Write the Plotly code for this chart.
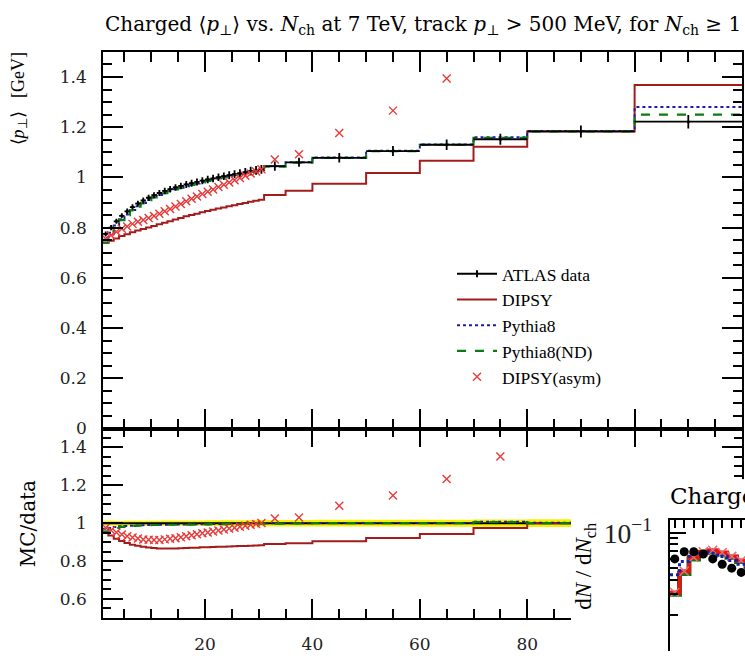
import plotly.graph_objects as go

# ---------------- data: <pT> vs Nch ----------------
edges = [1, 2, 3, 4, 5, 6, 7, 8, 9, 10, 11, 12, 13, 14, 15, 16, 17, 18, 19, 20, 21,
         22, 23, 24, 25, 26, 27, 28, 29, 30, 31, 35, 40, 50, 60, 70, 80, 100, 120]
atlas = [0.775, 0.800, 0.825, 0.847, 0.865, 0.882, 0.896, 0.908, 0.919, 0.929,
         0.938, 0.946, 0.953, 0.960, 0.966, 0.972, 0.977, 0.982, 0.987, 0.992,
         0.996, 1.001, 1.005, 1.009, 1.013, 1.017, 1.021, 1.025, 1.028, 1.032,
         1.045, 1.060, 1.078, 1.105, 1.130, 1.152, 1.183, 1.222]
atlas_err = [0.010, 0.010, 0.010, 0.010, 0.011, 0.011, 0.011, 0.012, 0.012, 0.012,
             0.012, 0.013, 0.013, 0.013, 0.013, 0.014, 0.014, 0.014, 0.014, 0.015,
             0.015, 0.015, 0.015, 0.016, 0.016, 0.016, 0.016, 0.017, 0.017, 0.017,
             0.018, 0.018, 0.019, 0.020, 0.021, 0.022, 0.024, 0.027]
dipsy = [0.740, 0.748, 0.757, 0.767, 0.774, 0.782, 0.789, 0.795, 0.801, 0.807,
         0.813, 0.819, 0.825, 0.832, 0.838, 0.845, 0.850, 0.855, 0.861, 0.866,
         0.871, 0.876, 0.880, 0.885, 0.889, 0.894, 0.898, 0.903, 0.907, 0.911,
         0.930, 0.947, 0.975, 1.018, 1.066, 1.122, 1.183, 1.368]
pythia8 = [0.752, 0.780, 0.808, 0.833, 0.852, 0.870, 0.885, 0.898, 0.910, 0.920,
           0.930, 0.938, 0.946, 0.953, 0.959, 0.965, 0.971, 0.976, 0.981, 0.986,
           0.991, 0.996, 1.001, 1.005, 1.010, 1.014, 1.018, 1.022, 1.026, 1.030,
           1.044, 1.060, 1.079, 1.106, 1.131, 1.160, 1.185, 1.280]
pythia8_nd = [0.740, 0.774, 0.804, 0.830, 0.850, 0.869, 0.884, 0.897, 0.909, 0.920,
              0.929, 0.937, 0.945, 0.952, 0.958, 0.964, 0.970, 0.975, 0.980, 0.986,
              0.991, 0.996, 1.000, 1.005, 1.009, 1.013, 1.018, 1.022, 1.025, 1.029,
              1.043, 1.059, 1.078, 1.105, 1.130, 1.158, 1.183, 1.250]
dipsy_asym = [0.756, 0.770, 0.784, 0.796, 0.805, 0.815, 0.823, 0.830, 0.838, 0.846,
              0.855, 0.865, 0.874, 0.884, 0.894, 0.905, 0.915, 0.924, 0.934, 0.943,
              0.952, 0.962, 0.971, 0.980, 0.989, 0.998, 1.007, 1.016, 1.024, 1.033,
              1.071, 1.092, 1.177, 1.266, 1.394, 1.557, 1.850, 2.100]

# ---------------- data: multiplicity (partially visible second figure) ----------------
mult_edges = [0.5, 1.5, 2.5, 3.5, 4.5, 5.5, 6.5, 7.5, 8.5, 9.5, 10.5]
mult_atlas = [0.060, 0.069, 0.069, 0.066, 0.060, 0.054, 0.050, 0.046, 0.042, 0.039]
mult_pythia8 = [0.044, 0.057, 0.067, 0.069, 0.067, 0.063, 0.058, 0.054, 0.050, 0.046]
mult_pythia8_nd = [0.030, 0.045, 0.060, 0.068, 0.069, 0.066, 0.062, 0.057, 0.052, 0.047]
mult_dipsy = [0.031, 0.047, 0.062, 0.069, 0.071, 0.068, 0.063, 0.058, 0.053, 0.048]

W, H = 745, 661
SERIF = "DejaVu Serif"
SERIF2 = "Liberation Serif"

def px_x(p):
    return p / W

def px_y(p):
    return (H - p) / H

centers = [(a + b) / 2 for a, b in zip(edges[:-1], edges[1:])]
halfw = [(b - a) / 2 for a, b in zip(edges[:-1], edges[1:])]
mcenters = [(a + b) / 2 for a, b in zip(mult_edges[:-1], mult_edges[1:])]

def step(vals):
    return list(vals) + [vals[-1]]

def ratio(vals):
    return [v / d for v, d in zip(vals, atlas)]

DRED = "#a31c1c"
BLUE = "#1c1ca8"
GREEN = "#0b7a12"
XRED = "#e83a3a"

fig = go.Figure()

# legend sample for data (line with point)
fig.add_trace(go.Scatter(x=[None], y=[None], mode="lines+markers", line=dict(color="black", width=2),
                         marker=dict(color="black", size=5, symbol="line-ns", line=dict(width=2, color="black")),
                         name="ATLAS data", legendgroup="a"))
# ---------- upper panel ----------
fig.add_trace(go.Scatter(x=edges, y=step(dipsy), mode="lines", line=dict(color=DRED, width=2, shape="hv"),
                         name="DIPSY", legendgroup="b"))
fig.add_trace(go.Scatter(x=edges, y=step(pythia8), mode="lines",
                         line=dict(color=BLUE, width=2, shape="hv", dash="dot"), name="Pythia8", legendgroup="c"))
fig.add_trace(go.Scatter(x=edges, y=step(pythia8_nd), mode="lines",
                         line=dict(color=GREEN, width=2.2, shape="hv", dash="dash"), name="Pythia8(ND)",
                         legendgroup="d"))
fig.add_trace(go.Scatter(x=centers, y=atlas, mode="markers",
                         marker=dict(color="black", size=3),
                         error_x=dict(type="data", array=halfw, width=0, thickness=1.8, color="black"),
                         error_y=dict(type="data", array=atlas_err, width=0, thickness=1.8, color="black"),
                         showlegend=False))
fig.add_trace(go.Scatter(x=centers, y=dipsy_asym, mode="markers",
                         marker=dict(symbol="x-thin", size=8, line=dict(width=1.4, color=XRED), color=XRED),
                         name="DIPSY(asym)", legendgroup="e"))

# ---------- ratio panel ----------
lo = [1 - e / d for e, d in zip(atlas_err, atlas)]
hi = [1 + e / d for e, d in zip(atlas_err, atlas)]
fig.add_trace(go.Scatter(x=edges, y=step(lo), mode="lines", line=dict(width=0, shape="hv"),
                         xaxis="x2", yaxis="y2", showlegend=False, hoverinfo="skip"))
fig.add_trace(go.Scatter(x=edges, y=step(hi), mode="lines", line=dict(width=0, shape="hv"),
                         fill="tonexty", fillcolor="#f5f200", xaxis="x2", yaxis="y2", showlegend=False))
fig.add_trace(go.Scatter(x=edges, y=step(ratio(atlas)), mode="lines", line=dict(color="black", width=2, shape="hv"),
                         xaxis="x2", yaxis="y2", showlegend=False))
fig.add_trace(go.Scatter(x=edges, y=step(ratio(dipsy)), mode="lines", line=dict(color=DRED, width=2, shape="hv"),
                         xaxis="x2", yaxis="y2", showlegend=False))
fig.add_trace(go.Scatter(x=edges, y=step(ratio(pythia8)), mode="lines",
                         line=dict(color=BLUE, width=2, shape="hv", dash="dot"), xaxis="x2", yaxis="y2",
                         showlegend=False))
fig.add_trace(go.Scatter(x=edges, y=step(ratio(pythia8_nd)), mode="lines",
                         line=dict(color=GREEN, width=2.2, shape="hv", dash="dash"), xaxis="x2", yaxis="y2",
                         showlegend=False))
fig.add_trace(go.Scatter(x=centers, y=ratio(dipsy_asym), mode="markers",
                         marker=dict(symbol="x-thin", size=8, line=dict(width=1.4, color=XRED), color=XRED),
                         xaxis="x2", yaxis="y2", showlegend=False))

# ---------- second figure (multiplicity), partly visible ----------
fig.add_trace(go.Scatter(x=mult_edges, y=step(mult_pythia8_nd), mode="lines",
                         line=dict(color=GREEN, width=5, shape="hv"), xaxis="x4", yaxis="y4", showlegend=False))
fig.add_trace(go.Scatter(x=mult_edges, y=step(mult_dipsy), mode="lines",
                         line=dict(color="#f01010", width=4, shape="hv"), xaxis="x4", yaxis="y4", showlegend=False))
fig.add_trace(go.Scatter(x=mcenters, y=mult_dipsy, mode="markers",
                         marker=dict(symbol="x-thin", size=9, line=dict(width=1.5, color="#e07070")),
                         xaxis="x4", yaxis="y4", showlegend=False))
fig.add_trace(go.Scatter(x=mult_edges, y=step(mult_pythia8), mode="lines",
                         line=dict(color="#1020b0", width=3, shape="hv", dash="dot"), xaxis="x4", yaxis="y4",
                         showlegend=False))
fig.add_trace(go.Scatter(x=mcenters, y=mult_atlas, mode="markers",
                         marker=dict(color="black", size=9), xaxis="x4", yaxis="y4", showlegend=False))

tickfont = dict(family=SERIF, size=17, color="#222")
ax_common = dict(showline=True, linecolor="black", linewidth=1.6, ticks="inside", tickcolor="black",
                 tickwidth=1.6, showgrid=False, zeroline=False, tickfont=tickfont)

xd = [px_x(103), px_x(742)]
fig.update_layout(
    width=W, height=H, margin=dict(l=0, r=0, t=0, b=0),
    paper_bgcolor="white", plot_bgcolor="white",
    showlegend=True,
    legend=dict(x=px_x(452), y=px_y(256), xanchor="left", yanchor="top", bgcolor="rgba(0,0,0,0)",
                traceorder="normal", font=dict(family=SERIF2, size=17.5, color="black"), tracegroupgap=0,
                itemwidth=40),
    xaxis=dict(domain=xd, range=[1, 120], anchor="y", tick0=0, dtick=20, ticklen=20, mirror="ticks",
               showticklabels=False,
               minor=dict(dtick=5, tick0=0, ticklen=10, ticks="inside", tickwidth=1.6, tickcolor="black"),
               **ax_common),
    yaxis=dict(domain=[px_y(433), px_y(47)], range=[0, 1.5], anchor="x", tick0=0, dtick=0.2, ticklen=20,
               mirror="ticks", ticklabelstandoff=11,
               minor=dict(dtick=0.05, tick0=0, ticklen=9, ticks="inside", tickwidth=1.6, tickcolor="black"),
               **ax_common),
    xaxis2=dict(domain=xd, range=[1, 120], anchor="y2", matches="x", tick0=0, dtick=20, ticklen=19,
                mirror="ticks", ticklabelstandoff=10,
                minor=dict(dtick=5, tick0=0, ticklen=9, ticks="inside", tickwidth=1.6, tickcolor="black"),
                **ax_common),
    yaxis2=dict(domain=[px_y(627), px_y(433)], range=[0.5, 1.5], anchor="x2", tick0=0, dtick=0.2, ticklen=20,
                mirror="ticks", ticklabelstandoff=11,
                minor=dict(dtick=0.05, tick0=0, ticklen=8, ticks="inside", tickwidth=1.6, tickcolor="black"),
                **ax_common),
    # white cover = page area of the overlapping second figure
    xaxis3=dict(domain=[px_x(571), 1], range=[0, 1], anchor="y3", visible=False),
    yaxis3=dict(domain=[0, px_y(485)], range=[0, 1], anchor="x3", visible=False),
    # second figure axes
    xaxis4=dict(domain=[px_x(670), 1], range=[0.5, 8.4], anchor="y4", side="top", dtick=5, tick0=0, ticklen=14,
                showticklabels=False,
                minor=dict(dtick=1, ticklen=8, ticks="inside", tickwidth=1.6, tickcolor="black"),
                **ax_common),
    yaxis4=dict(domain=[0, px_y(527)], type="log", range=[-2.008, -0.892], anchor="x4", dtick=1,
                exponentformat="power", ticklen=16, ticklabelstandoff=12,
                minor=dict(dtick="D1", ticklen=8, ticks="inside", tickwidth=1.6, tickcolor="black"),
                **{**ax_common, "tickfont": dict(family=SERIF2, size=22, color="#222")}),
    shapes=[dict(type="rect", xref="x3", yref="y3", x0=0, x1=1, y0=0, y1=1, layer="below",
                 fillcolor="white", line=dict(width=0))],
    annotations=[
        dict(text="Charged ⟨<i>p</i><sub>⊥</sub>⟩ vs. <i>N</i><sub>ch</sub> at 7 TeV, track <i>p</i><sub>⊥</sub> &gt; 500 MeV, for <i>N</i><sub>ch</sub> ≥ 1",
             x=px_x(423), y=px_y(19), xref="paper", yref="paper", showarrow=False,
             xanchor="center", yanchor="middle", font=dict(family=SERIF, size=20, color="black")),
        dict(text="⟨<i>p</i><sub>⊥</sub>⟩   [GeV]", textangle=-90, x=px_x(19), y=px_y(46), xref="paper",
             yref="paper", showarrow=False, xanchor="center", yanchor="top",
             font=dict(family=SERIF2, size=18, color="black")),
        dict(text="MC/data", textangle=-90, x=px_x(28), y=px_y(530), xref="paper", yref="paper",
             showarrow=False, xanchor="center", yanchor="middle", font=dict(family=SERIF, size=20, color="black")),
        dict(text="Charged multiplicity at 7 TeV, track <i>p</i><sub>⊥</sub> &gt; 500 MeV, for <i>N</i><sub>ch</sub> ≥ 1",
             x=px_x(668), y=px_y(504), xref="paper", yref="paper", showarrow=False,
             xanchor="left", yanchor="middle", font=dict(family=SERIF, size=23, color="black")),
        dict(text="d<i>N</i> / d<i>N</i><sub>ch</sub>", textangle=-90, x=px_x(585), y=px_y(528), xref="paper",
             yref="paper", showarrow=False, xanchor="center", yanchor="top",
             font=dict(family=SERIF2, size=23, color="black")),
    ],
)

fig.write_html("out.html")
